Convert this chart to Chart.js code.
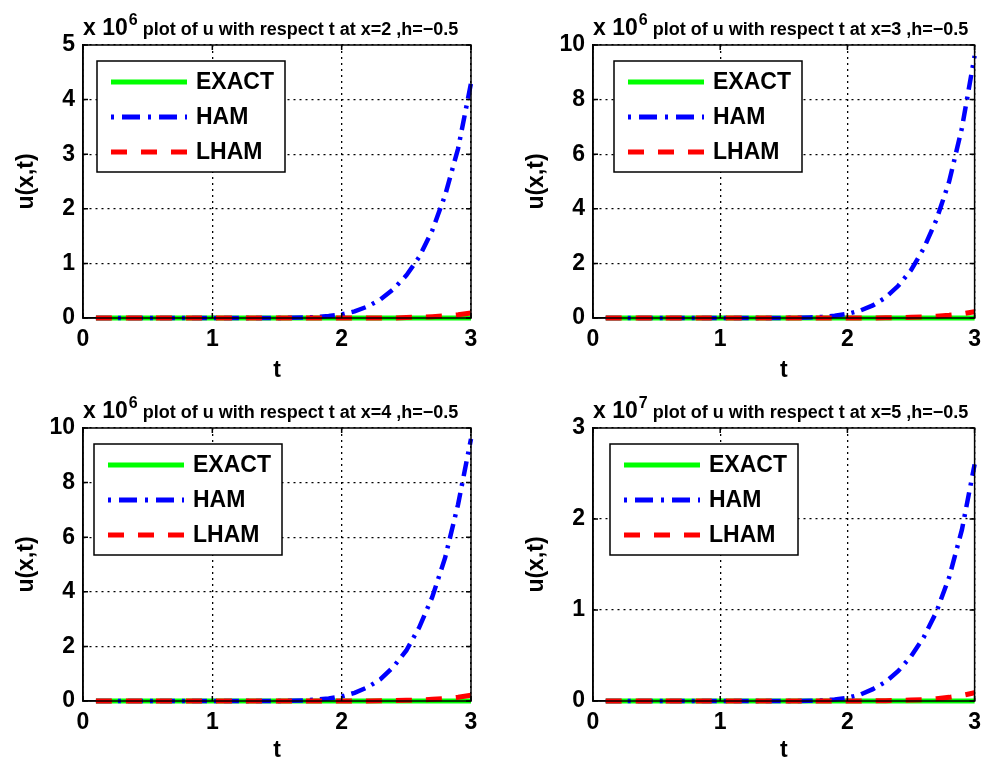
<!DOCTYPE html>
<html>
<head>
<meta charset="utf-8">
<script src="https://cdn.jsdelivr.net/npm/chart.js@4.4.0/dist/chart.umd.min.js"></script>
<style>
body { margin: 0; background: #fff; }
#page { position: relative; width: 989px; height: 765px; }
canvas { position: absolute; }
</style>
</head>
<body>
<div id="page">
    <canvas id="c1" width="494" height="385" style="left:0;top:0"></canvas>
    <canvas id="c2" width="495" height="385" style="left:494px;top:0"></canvas>
    <canvas id="c3" width="494" height="380" style="left:0;top:385px"></canvas>
    <canvas id="c4" width="495" height="380" style="left:494px;top:385px"></canvas>
</div>
<script>
// t values shared by every panel
var tValues = [0.1, 0.2, 0.3, 0.4, 0.5, 0.6, 0.7, 0.8, 0.9, 1.0,
               1.1, 1.2, 1.3, 1.4, 1.5, 1.6, 1.7, 1.8, 1.9, 2.0,
               2.1, 2.2, 2.3, 2.4, 2.5, 2.6, 2.7, 2.8, 2.9, 3.0];
var xTicks = [0, 1, 2, 3];
var seriesLabels = ['EXACT', 'HAM', 'LHAM'];

// x=2 (units of 10^6)
var exact_x2 = [0, 0, 0, 0, 0, 0, 0, 0, 0, 0, 0, 0, 0, 0, 0, 0, 0, 0, 0, 0, 0, 0, 0, 0, 0, 0, 0, 0, 0, 0];
var ham_x2 = [0, 0, 0, 0, 0, 0, 0, 0, 0, 0, 0, 0, 0, 0, 0,
              0.003, 0.008, 0.018, 0.035, 0.065, 0.12, 0.21, 0.34, 0.53, 0.78, 1.12, 1.6, 2.25, 3.1, 4.3];
var lham_x2 = [0, 0, 0, 0, 0, 0, 0, 0, 0, 0, 0, 0, 0, 0, 0, 0, 0, 0, 0, 0, 0, 0, 0, 0,
               0.01, 0.015, 0.025, 0.04, 0.06, 0.09];

// x=3 (units of 10^6)
var exact_x3 = [0, 0, 0, 0, 0, 0, 0, 0, 0, 0, 0, 0, 0, 0, 0, 0, 0, 0, 0, 0, 0, 0, 0, 0, 0, 0, 0, 0, 0, 0];
var ham_x3 = [0, 0, 0, 0, 0, 0, 0, 0, 0, 0, 0, 0, 0, 0, 0,
              0.01, 0.02, 0.04, 0.08, 0.15, 0.27, 0.46, 0.75, 1.18, 1.75, 2.55, 3.6, 5.0, 6.95, 9.6];
var lham_x3 = [0, 0, 0, 0, 0, 0, 0, 0, 0, 0, 0, 0, 0, 0, 0, 0, 0, 0, 0, 0, 0, 0,
               0.01, 0.015, 0.025, 0.04, 0.065, 0.1, 0.15, 0.23];

// x=4 (units of 10^6)
var exact_x4 = [0, 0, 0, 0, 0, 0, 0, 0, 0, 0, 0, 0, 0, 0, 0, 0, 0, 0, 0, 0, 0, 0, 0, 0, 0, 0, 0, 0, 0, 0];
var ham_x4 = [0, 0, 0, 0, 0, 0, 0, 0, 0, 0, 0, 0, 0, 0, 0,
              0.01, 0.02, 0.05, 0.09, 0.17, 0.3, 0.5, 0.8, 1.25, 1.85, 2.7, 3.8, 5.25, 7.2, 9.6];
var lham_x4 = [0, 0, 0, 0, 0, 0, 0, 0, 0, 0, 0, 0, 0, 0, 0, 0, 0, 0, 0, 0, 0, 0,
               0.01, 0.015, 0.025, 0.04, 0.06, 0.09, 0.14, 0.21];

// x=5 (units of 10^7)
var exact_x5 = [0, 0, 0, 0, 0, 0, 0, 0, 0, 0, 0, 0, 0, 0, 0, 0, 0, 0, 0, 0, 0, 0, 0, 0, 0, 0, 0, 0, 0, 0];
var ham_x5 = [0, 0, 0, 0, 0, 0, 0, 0, 0, 0, 0, 0, 0, 0, 0,
              0.001, 0.003, 0.007, 0.016, 0.035, 0.07, 0.13, 0.21, 0.33, 0.49, 0.7, 0.98, 1.36, 1.88, 2.6];
var lham_x5 = [0, 0, 0, 0, 0, 0, 0, 0, 0, 0, 0, 0, 0, 0, 0, 0, 0, 0, 0, 0, 0,
               0.002, 0.004, 0.006, 0.01, 0.016, 0.025, 0.04, 0.06, 0.09];

var FONT = '"Liberation Sans", Arial, Helvetica, sans-serif';

function pts(values) {
    return values.map(function (v, i) { return { x: tValues[i], y: v }; });
}

// draws the matlab style box, inward ticks, title and the legend inside the plot
var matlabPlugin = {
    id: 'matlab',
    afterDatasetsDraw: function (chart, args, o) {
        var ctx = chart.ctx, a = chart.chartArea, xs = chart.scales.x, ys = chart.scales.y;
        ctx.save();
        ctx.strokeStyle = '#000';
        ctx.lineWidth = 1.5;
        ctx.setLineDash([]);
        ctx.strokeRect(a.left, a.top, a.right - a.left, a.bottom - a.top);
        ctx.beginPath();
        xs.ticks.forEach(function (t) {
            var x = xs.getPixelForValue(t.value);
            ctx.moveTo(x, a.bottom); ctx.lineTo(x, a.bottom - 5);
            ctx.moveTo(x, a.top); ctx.lineTo(x, a.top + 5);
        });
        ys.ticks.forEach(function (t) {
            var y = ys.getPixelForValue(t.value);
            ctx.moveTo(a.left, y); ctx.lineTo(a.left + 5, y);
            ctx.moveTo(a.right, y); ctx.lineTo(a.right - 5, y);
        });
        ctx.stroke();
        ctx.restore();
    },
    afterDraw: function (chart, args, o) {
        var ctx = chart.ctx, a = chart.chartArea;
        ctx.save();
        // title with the multiplier
        var base = a.top - 10;
        ctx.fillStyle = '#000';
        ctx.textAlign = 'left';
        ctx.textBaseline = 'alphabetic';
        ctx.font = 'bold 23px ' + FONT;
        ctx.fillText('x 10', a.left, base);
        var w = ctx.measureText('x 10').width;
        ctx.font = 'bold 16px ' + FONT;
        ctx.fillText(o.exponent, a.left + w + 1, base - 10);
        var w2 = ctx.measureText(o.exponent).width;
        ctx.font = 'bold 18px ' + FONT;
        ctx.fillText(o.title, a.left + w + 1 + w2 + 5, base);

        // legend
        var lx = a.left + o.legendLeft, ly = a.top + 16, lw = 188, lh = 111;
        ctx.fillStyle = '#fff';
        ctx.fillRect(lx, ly, lw, lh);
        ctx.strokeStyle = '#000';
        ctx.lineWidth = 1.5;
        ctx.strokeRect(lx, ly, lw, lh);
        chart.data.datasets.forEach(function (ds, i) {
            var y = ly + 21 + i * 35;
            ctx.beginPath();
            ctx.strokeStyle = ds.borderColor;
            ctx.lineWidth = 5;
            ctx.lineCap = 'butt';
            ctx.setLineDash(ds.legendDash);
            ctx.moveTo(lx + 14, y);
            ctx.lineTo(lx + 90, y);
            ctx.stroke();
            ctx.setLineDash([]);
            ctx.fillStyle = '#000';
            ctx.font = 'bold 23px ' + FONT;
            ctx.textBaseline = 'middle';
            ctx.fillText(ds.label, lx + 99, y + 1);
        });
        ctx.restore();
    }
};

function makePanel(id, p) {
    var canvas = document.getElementById(id);
    var W = canvas.width, H = canvas.height;
    var yAxisW = 73;
    var tickFont = { family: FONT, size: 23, weight: 'bold' };

    return new Chart(canvas, {
        type: 'line',
        data: {
            datasets: [
                { label: seriesLabels[0], data: pts(p.exact), borderColor: '#00ff00', borderWidth: 5,
                  borderDash: [], legendDash: [], order: 3, clip: false },
                { label: seriesLabels[1], data: pts(p.ham), borderColor: '#0000ff', borderWidth: 4.5,
                  borderDash: [15, 7, 3, 7], legendDash: [3, 8, 18, 8], order: 2, clip: false },
                { label: seriesLabels[2], data: pts(p.lham), borderColor: '#ff0000', borderWidth: 5,
                  borderDash: [16, 14], legendDash: [16, 14], order: 1, clip: false }
            ]
        },
        options: {
            responsive: false,
            animation: false,
            layout: { padding: { left: p.left - yAxisW, top: p.top, right: W - p.right, bottom: 0 } },
            elements: { point: { radius: 0 }, line: { tension: 0, borderCapStyle: 'butt', fill: false } },
            plugins: {
                legend: { display: false },
                title: { display: false },
                tooltip: { enabled: false },
                matlab: { exponent: p.exponent, title: p.title, legendLeft: p.legendLeft }
            },
            scales: {
                x: {
                    type: 'linear', min: 0, max: 3,
                    afterBuildTicks: function (s) { s.ticks = xTicks.map(function (v) { return { value: v }; }); },
                    afterFit: function (s) { s.height = H - p.bottom; },
                    ticks: { color: '#000', font: tickFont, padding: 8, maxRotation: 0 },
                    grid: { color: '#000', lineWidth: 1.3, drawTicks: false },
                    border: { display: true, color: '#000', width: 1.5, dash: [2, 4] },
                    title: { display: true, text: 't', color: '#000', font: tickFont, padding: { top: 0, bottom: 1 } }
                },
                y: {
                    type: 'linear', min: 0, max: p.yMax,
                    afterBuildTicks: function (s) { s.ticks = p.yTicks.map(function (v) { return { value: v }; }); },
                    afterFit: function (s) { s.width = yAxisW; },
                    ticks: { color: '#000', font: tickFont, padding: 8 },
                    grid: { color: '#000', lineWidth: 1.3, drawTicks: false },
                    border: { display: true, color: '#000', width: 1.5, dash: [2, 4] },
                    title: { display: true, text: 'u(x,t)', color: '#000', font: tickFont, padding: { top: 3, bottom: 0 } }
                }
            }
        },
        plugins: [matlabPlugin]
    });
}

makePanel('c1', { exact: exact_x2, ham: ham_x2, lham: lham_x2, yMax: 5, yTicks: [0, 1, 2, 3, 4, 5],
    exponent: '6', title: 'plot of u with respect t at x=2 ,h=\u22120.5',
    left: 83, right: 471, top: 45, bottom: 318, legendLeft: 14 });
makePanel('c2', { exact: exact_x3, ham: ham_x3, lham: lham_x3, yMax: 10, yTicks: [0, 2, 4, 6, 8, 10],
    exponent: '6', title: 'plot of u with respect t at x=3 ,h=\u22120.5',
    left: 99, right: 487, top: 45, bottom: 318, legendLeft: 21 });
makePanel('c3', { exact: exact_x4, ham: ham_x4, lham: lham_x4, yMax: 10, yTicks: [0, 2, 4, 6, 8, 10],
    exponent: '6', title: 'plot of u with respect t at x=4 ,h=\u22120.5',
    left: 83, right: 471, top: 43, bottom: 316, legendLeft: 11 });
makePanel('c4', { exact: exact_x5, ham: ham_x5, lham: lham_x5, yMax: 3, yTicks: [0, 1, 2, 3],
    exponent: '7', title: 'plot of u with respect t at x=5 ,h=\u22120.5',
    left: 99, right: 487, top: 43, bottom: 316, legendLeft: 17 });
</script>
</body>
</html>
